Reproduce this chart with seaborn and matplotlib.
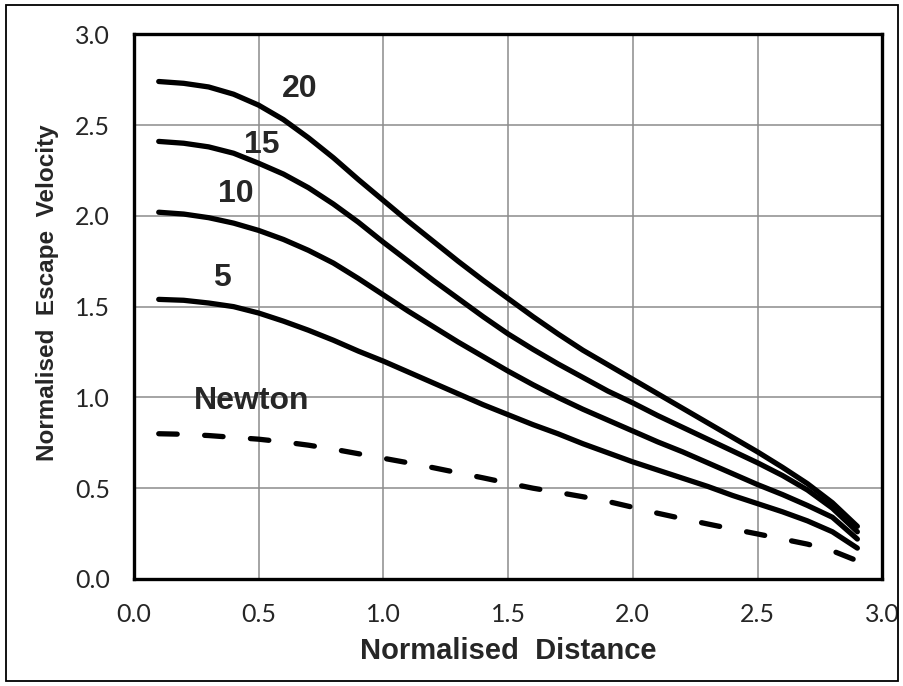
import numpy as np
import pandas as pd
import matplotlib
matplotlib.use("Agg")
import matplotlib.pyplot as plt
import seaborn as sns
from matplotlib.patches import Rectangle

# normalised distance
dist = [0.1, 0.2, 0.3, 0.4, 0.5, 0.6, 0.7, 0.8, 0.9, 1.0,
        1.1, 1.2, 1.3, 1.4, 1.5, 1.6, 1.7, 1.8, 1.9, 2.0,
        2.1, 2.2, 2.3, 2.4, 2.5, 2.6, 2.7, 2.8, 2.9]

v20 = [2.74, 2.73, 2.71, 2.67, 2.61, 2.53, 2.43, 2.32, 2.20, 2.085,
       1.97, 1.86, 1.75, 1.645, 1.545, 1.445, 1.35, 1.26, 1.18, 1.10,
       1.02, 0.94, 0.86, 0.78, 0.70, 0.615, 0.525, 0.42, 0.29]
v15 = [2.41, 2.40, 2.38, 2.345, 2.29, 2.23, 2.155, 2.065, 1.965, 1.855,
       1.75, 1.645, 1.545, 1.445, 1.35, 1.265, 1.185, 1.11, 1.035, 0.97,
       0.90, 0.835, 0.77, 0.705, 0.64, 0.57, 0.49, 0.39, 0.26]
v10 = [2.02, 2.01, 1.99, 1.96, 1.92, 1.87, 1.81, 1.74, 1.655, 1.565,
       1.475, 1.39, 1.305, 1.225, 1.145, 1.07, 1.00, 0.935, 0.875, 0.815,
       0.755, 0.70, 0.64, 0.58, 0.52, 0.465, 0.405, 0.34, 0.22]
v5 = [1.54, 1.535, 1.52, 1.50, 1.465, 1.42, 1.37, 1.315, 1.255, 1.20,
      1.14, 1.08, 1.02, 0.96, 0.905, 0.85, 0.80, 0.745, 0.695, 0.645,
      0.60, 0.555, 0.51, 0.46, 0.415, 0.37, 0.32, 0.26, 0.17]
newton = [0.80, 0.797, 0.79, 0.78, 0.77, 0.755, 0.737, 0.715, 0.69, 0.665,
          0.64, 0.613, 0.585, 0.557, 0.528, 0.50, 0.477, 0.453, 0.427, 0.395,
          0.362, 0.332, 0.303, 0.275, 0.248, 0.22, 0.192, 0.155, 0.10]

curve_names = ["20", "15", "10", "5"]
curve_vals = [v20, v15, v10, v5]
# label anchor (data coords) for each curve name
label_x = [0.666, 0.512, 0.409, 0.354]
label_y = [2.70, 2.39, 2.12, 1.655]
newton_label = (0.472, 0.98)

sns.set_style("white")
plt.rcParams['font.family'] = ['Liberation Sans', 'DejaVu Sans']

fig = plt.figure(figsize=(9.04, 6.86), dpi=100)
ax = fig.add_axes([0.148, 0.156, 0.828, 0.794])

for name, vals in zip(curve_names, curve_vals):
    df = pd.DataFrame({"dist": dist, "vel": vals})
    sns.lineplot(data=df, x="dist", y="vel", ax=ax, color="black",
                 linewidth=3.8, solid_capstyle="round",
                 solid_joinstyle="round")

dfn = pd.DataFrame({"dist": dist, "vel": newton})
sns.lineplot(data=dfn, x="dist", y="vel", ax=ax, color="black",
             linewidth=3.8, dashes=False)
ax.lines[-1].set_linestyle((0, (3.5, 5.2)))
ax.lines[-1].set_dash_capstyle("round")

for name, lx, ly in zip(curve_names, label_x, label_y):
    ax.text(lx, ly, name, ha="center", va="center", fontsize=23,
            fontweight="bold")
ax.text(newton_label[0], newton_label[1], "Newton", ha="center", va="center",
        fontsize=23, fontweight="bold")

ticks = np.arange(0, 3.01, 0.5)
ax.set_xlim(0, 3.0)
ax.set_ylim(0, 3.0)
ax.set_xticks(ticks)
ax.set_yticks(ticks)
ax.set_xticklabels([f"{t:.1f}" for t in ticks])
ax.set_yticklabels([f"{t:.1f}" for t in ticks])
for lab in ax.get_xticklabels() + ax.get_yticklabels():
    lab.set_family(["Lato", "DejaVu Sans"])
    lab.set_fontsize(18)

ax.grid(True, color="#8c8c8c", linewidth=1.1)
ax.set_axisbelow(True)
for sp in ax.spines.values():
    sp.set_visible(True)
    sp.set_color("black")
    sp.set_linewidth(2.4)
ax.tick_params(axis="both", which="major", direction="out", length=5,
               width=2.4, color="black", pad=12)

ax.set_xlabel("Normalised  Distance", fontsize=21, fontweight="bold",
              labelpad=8)
ax.set_ylabel("Normalised  Escape  Velocity", fontsize=17.5, fontweight="bold",
              labelpad=12)
ax.yaxis.set_label_coords(-0.10, 0.525)

fig.patches.append(Rectangle((0.007, 0.008), 0.986, 0.985,
                             transform=fig.transFigure, fill=False,
                             edgecolor="black", linewidth=1.3))

fig.savefig("out.png", dpi=100)
